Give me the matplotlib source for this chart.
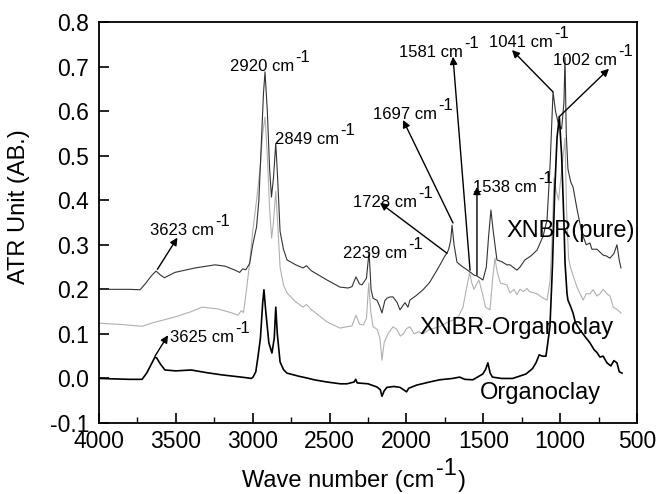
import numpy as np
import matplotlib
matplotlib.use("Agg")
import matplotlib.pyplot as plt

plt.rcParams['font.family'] = ['Liberation Sans', 'DejaVu Sans']

# wavenumber (cm-1) / absorbance
pure_wn = [4000, 3800, 3733, 3700, 3660, 3629, 3600, 3575, 3506, 3375, 3245, 3180, 3115, 3085,
           3065, 3045, 3020, 3000, 2975, 2960, 2945, 2930, 2920, 2905, 2890, 2878, 2865, 2850,
           2838, 2822, 2800, 2777, 2720, 2673, 2650, 2620, 2517, 2432, 2380, 2354, 2328, 2305,
           2289, 2260, 2243, 2230, 2217, 2190, 2172, 2159, 2140, 2126, 2107, 2087, 2060, 2042,
           2020, 2009, 1990, 1977, 1940, 1892, 1850, 1801, 1770, 1750, 1736, 1725, 1712, 1703,
           1690, 1671, 1640, 1610, 1586, 1560, 1541, 1502, 1480, 1465, 1450, 1435, 1411, 1380,
           1346, 1326, 1281, 1261, 1229, 1190, 1150, 1110, 1085, 1065, 1046, 1030, 1010, 990,
           975, 968, 960, 949, 930, 916, 890, 858, 830, 806, 793, 760, 721, 700, 676, 650, 630,
           615, 604]
pure_ab = [0.200, 0.200, 0.199, 0.212, 0.230, 0.241, 0.232, 0.226, 0.238, 0.248, 0.255, 0.252,
           0.243, 0.238, 0.246, 0.244, 0.258, 0.300, 0.340, 0.400, 0.520, 0.640, 0.688, 0.600,
           0.470, 0.407, 0.450, 0.528, 0.450, 0.330, 0.290, 0.266, 0.255, 0.248, 0.253, 0.242,
           0.221, 0.205, 0.203, 0.206, 0.228, 0.212, 0.210, 0.225, 0.284, 0.200, 0.180, 0.175,
           0.160, 0.147, 0.175, 0.180, 0.183, 0.183, 0.170, 0.154, 0.165, 0.170, 0.160, 0.176,
           0.185, 0.199, 0.215, 0.243, 0.262, 0.275, 0.281, 0.290, 0.310, 0.344, 0.300, 0.261,
           0.252, 0.245, 0.239, 0.232, 0.230, 0.221, 0.250, 0.320, 0.378, 0.330, 0.266, 0.262,
           0.255, 0.255, 0.243, 0.250, 0.266, 0.275, 0.288, 0.320, 0.356, 0.480, 0.643, 0.600,
           0.570, 0.560, 0.620, 0.720, 0.550, 0.470, 0.440, 0.430, 0.380, 0.326, 0.300, 0.304,
           0.290, 0.290, 0.277, 0.275, 0.270, 0.280, 0.300, 0.265, 0.248]

comp_wn = [4000, 3850, 3720, 3650, 3506, 3400, 3330, 3226, 3135, 3096, 3075, 3060, 3040, 3020,
           3000, 2975, 2950, 2935, 2920, 2905, 2890, 2877, 2865, 2850, 2838, 2822, 2800, 2777,
           2720, 2673, 2650, 2620, 2517, 2432, 2388, 2354, 2328, 2305, 2280, 2260, 2245, 2232,
           2217, 2190, 2172, 2159, 2145, 2120, 2087, 2062, 2040, 2020, 1999, 1977, 1950, 1920,
           1892, 1850, 1784, 1740, 1697, 1660, 1632, 1610, 1589, 1575, 1560, 1540, 1528, 1505,
           1485, 1456, 1440, 1424, 1410, 1388, 1346, 1326, 1300, 1281, 1261, 1238, 1215, 1200,
           1150, 1110, 1085, 1065, 1050, 1040, 1025, 1010, 995, 980, 968, 958, 945, 933, 915,
           890, 870, 850, 830, 806, 785, 760, 741, 720, 695, 675, 654, 630, 604]
comp_ab = [0.124, 0.121, 0.117, 0.125, 0.138, 0.150, 0.160, 0.156, 0.147, 0.142, 0.152, 0.148,
           0.200, 0.260, 0.330, 0.400, 0.480, 0.550, 0.587, 0.500, 0.380, 0.315, 0.350, 0.420,
           0.350, 0.250, 0.210, 0.192, 0.172, 0.160, 0.166, 0.155, 0.127, 0.113, 0.116, 0.118,
           0.142, 0.122, 0.120, 0.135, 0.214, 0.150, 0.116, 0.110, 0.090, 0.041, 0.080, 0.100,
           0.116, 0.110, 0.095, 0.100, 0.112, 0.116, 0.100, 0.105, 0.100, 0.110, 0.116, 0.125,
           0.131, 0.140, 0.160, 0.200, 0.237, 0.215, 0.200, 0.214, 0.221, 0.190, 0.160, 0.154,
           0.220, 0.270, 0.240, 0.214, 0.210, 0.192, 0.200, 0.188, 0.200, 0.195, 0.202, 0.195,
           0.190, 0.180, 0.176, 0.220, 0.330, 0.450, 0.420, 0.400, 0.450, 0.500, 0.540, 0.380,
           0.270, 0.250, 0.230, 0.205, 0.190, 0.176, 0.190, 0.190, 0.199, 0.185, 0.190, 0.200,
           0.190, 0.185, 0.160, 0.155, 0.147]

clay_wn = [4000, 3800, 3720, 3690, 3660, 3636, 3625, 3600, 3571, 3500, 3400, 3300, 3200, 3100,
           3050, 3010, 2998, 2980, 2966, 2950, 2935, 2927, 2915, 2895, 2875, 2860, 2850, 2840,
           2822, 2800, 2778, 2700, 2647, 2600, 2517, 2430, 2387, 2340, 2330, 2320, 2250, 2193,
           2170, 2159, 2145, 2127, 2080, 2042, 2020, 1999, 1985, 1934, 1850, 1784, 1700, 1654,
           1620, 1568, 1503, 1485, 1470, 1455, 1440, 1380, 1309, 1222, 1180, 1157, 1136, 1115,
           1092, 1066, 1050, 1035, 1020, 1005, 990, 975, 968, 955, 949, 930, 916, 900, 871, 840,
           806, 780, 760, 741, 720, 695, 670, 650, 630, 615, 597]
clay_ab = [0.000, -0.002, -0.002, 0.012, 0.032, 0.048, 0.046, 0.032, 0.019, 0.017, 0.019, 0.013,
           0.008, 0.004, 0.002, 0.000, 0.003, 0.015, 0.048, 0.090, 0.170, 0.199, 0.150, 0.080,
           0.057, 0.090, 0.160, 0.100, 0.037, 0.020, 0.012, 0.005, 0.001, -0.003, -0.008, -0.012,
           -0.012, -0.008, -0.002, -0.010, -0.012, -0.019, -0.025, -0.040, -0.028, -0.020, -0.018,
           -0.020, -0.025, -0.030, -0.022, -0.015, -0.008, -0.003, 0.000, 0.003, -0.002, -0.003,
           0.010, 0.020, 0.035, 0.012, 0.003, 0.000, 0.000, 0.010, 0.022, 0.035, 0.053, 0.050,
           0.050, 0.116, 0.250, 0.420, 0.540, 0.587, 0.500, 0.350, 0.260, 0.190, 0.176, 0.160,
           0.147, 0.125, 0.109, 0.095, 0.080, 0.065, 0.058, 0.048, 0.050, 0.035, 0.028, 0.040,
           0.035, 0.015, 0.012]

# label text, text anchor (wn, ab), arrow tail on curve, arrow head (None = no arrow)
peak_labels = ['2920', '2849', '3623', '3625', '2239', '1728', '1697', '1581', '1538', '1041', '1002']
label_pos = [(3148, 0.690), (2855, 0.526), (3668, 0.322), (3538, 0.082), (2413, 0.270),
             (2347, 0.384), (2217, 0.582), (2048, 0.722), (1567, 0.419), (1463, 0.744),
             (1046, 0.703)]
arrow_tail = [None, None, (3620, 0.245), (3636, 0.050), None, (1736, 0.281), (1697, 0.349),
              (1586, 0.243), (1541, 0.232), (1046, 0.643), (1007, 0.587)]
arrow_head = [None, None, (3490, 0.316), (3551, 0.097), None, (2172, 0.394), (2022, 0.580),
              (1697, 0.722), (1541, 0.430), (1313, 0.737), (682, 0.695)]


def sup_text(anchor, txt, size):
    # full size "-1" raised above the end of the main text
    return ax.annotate(txt, xy=(1.0, 0.80), xycoords=anchor, xytext=(1, 0),
                       textcoords='offset points', fontsize=size, ha='left', va='baseline')


fig = plt.figure(figsize=(6.58, 4.94), dpi=100)
ax = fig.add_axes([0.1505, 0.1437, 0.8175, 0.8118])

ax.plot(comp_wn, comp_ab, color='#b0b0b0', lw=0.8)
ax.plot(pure_wn, pure_ab, color='#333333', lw=0.8)
ax.plot(clay_wn, clay_ab, color='black', lw=1.2)

for lab, pos, tail, head in zip(peak_labels, label_pos, arrow_tail, arrow_head):
    t = ax.text(pos[0], pos[1], lab + ' cm', fontsize=12, ha='left', va='baseline')
    sup_text(t, '-1', 12)
    if tail is not None:
        ax.annotate('', xy=head, xytext=tail,
                    arrowprops=dict(arrowstyle='-|>', color='black', lw=1.0,
                                    mutation_scale=11, shrinkA=0, shrinkB=0))

ax.text(1352, 0.331, 'XNBR(pure)', fontsize=17, ha='left', va='center')
ax.text(1912, 0.113, 'XNBR-Organoclay', fontsize=17, ha='left', va='center')
ax.text(1521, -0.033, 'Organoclay', fontsize=17, ha='left', va='center')

ax.set_xlim(4000, 500)
ax.set_ylim(-0.1, 0.8)
ax.set_xticks(np.arange(4000, 499, -500))
ax.set_xticks(np.arange(3750, 500, -500), minor=True)
yt = np.round(np.arange(-0.1, 0.81, 0.1), 1)
ax.set_yticks(yt)
ax.set_yticklabels([f'{v:.1f}' for v in yt])
ax.tick_params(axis='both', which='major', direction='in', length=7, width=1.2,
               labelsize=16.5, top=False, right=False)
ax.tick_params(axis='x', which='major', pad=5)
ax.tick_params(axis='y', which='major', pad=7)
ax.tick_params(axis='x', which='minor', direction='in', length=4, width=1.0, top=False)
for s in ax.spines.values():
    s.set_linewidth(1.3)

# x label with a full size superscript, as in the original
xl = fig.text(0.368, 0.014, 'Wave number (cm', fontsize=17, ha='left', va='baseline')
xs = ax.annotate('-1', xy=(1.0, 0.78), xycoords=xl, xytext=(1, 0),
                 textcoords='offset points', fontsize=17, ha='left', va='baseline')
ax.annotate(')', xy=(1.0, 0.0), xycoords=(xs, xl), xytext=(1, 0),
            textcoords='offset points', fontsize=17, ha='left', va='bottom')

ax.set_ylabel('ATR Unit (AB.)', fontsize=17)
ax.yaxis.set_label_coords(-0.128, 0.54)

fig.savefig('out.png', dpi=100)
